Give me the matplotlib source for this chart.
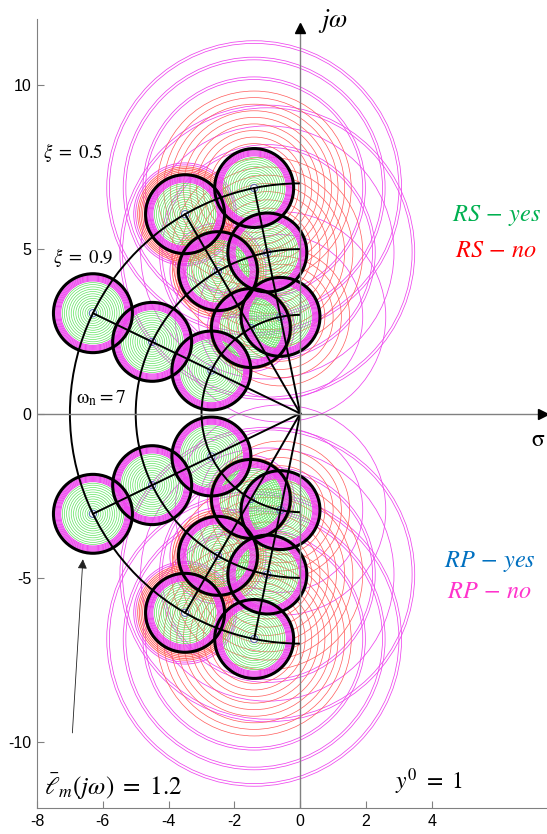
import numpy as np
import matplotlib
matplotlib.use('Agg')
import matplotlib.pyplot as plt
from matplotlib.patches import Circle, Arc

plt.rcParams['mathtext.fontset'] = 'stix'
plt.rcParams['font.family'] = ['Liberation Sans', 'DejaVu Sans']

# ---- data ----
wn_values = [3, 5, 7]            # natural frequencies of the pole grid
zeta_values = [0.9, 0.5, 0.2]    # damping ratios of the pole grid
lm_bar = 1.2                     # uncertainty radius (thick black circles)

# concentric test circles inside every uncertainty disc
green_radii = [0.17, 0.24, 0.31, 0.38, 0.45, 0.52, 0.59, 0.66, 0.73,
               0.80, 0.87, 0.93]
magenta_band_radii = [0.98, 1.01, 1.04, 1.07, 1.10, 1.13, 1.16]
blue_centre_radii = [0.11]

# extra circles around the less damped poles (keyed by wn)
red_halo_z05 = {3: [1.25], 5: [1.25, 1.31, 1.38],
                7: [1.24, 1.29, 1.34, 1.39, 1.44]}
magenta_halo_z05 = {3: [1.32], 5: [1.46], 7: [1.5, 1.56]}
red_outer_z02 = {3: [1.35, 1.6, 1.85, 2.1],
                 5: [1.35, 1.6, 1.85, 2.1, 2.35, 2.6, 2.9],
                 7: [1.35, 1.55, 1.75, 1.95, 2.15, 2.35, 2.55, 2.75, 2.95]}
magenta_outer_z02 = {3: [2.5, 3.2],
                     5: [3.2, 3.28, 3.85, 4.4, 4.48],
                     7: [3.3, 3.38, 3.9, 3.98, 4.4, 4.48]}

xticks = [-8, -6, -4, -2, 0, 2, 4]
yticks = [-10, -5, 0, 5, 10]

GREEN = '#5fe35f'
RED = '#ff5a5a'
MAG = '#ee44ee'

fig = plt.figure(figsize=(5.47, 8.34), dpi=100)
ax = fig.add_axes([37 / 547, 26 / 834, 510 / 547, 789 / 834])
ax.set_xlim(-8, 7.5)
ax.set_ylim(-12, 12)


def ring(c, r, color, lw, z):
    ax.add_patch(Circle(c, r, fill=False, edgecolor=color, lw=lw, zorder=z))


poles = []
for wn in wn_values:
    for z in zeta_values:
        s = -z * wn
        w = wn * np.sqrt(1 - z ** 2)
        for sign in (1, -1):
            poles.append((wn, z, (s, sign * w)))

for wn, z, c in poles:
    if z == 0.2:
        for r in magenta_outer_z02[wn]:
            ring(c, r, MAG, 0.55, 1)
        for r in red_outer_z02[wn]:
            ring(c, r, RED, 0.5, 2)
    if z == 0.5:
        for r in magenta_halo_z05[wn]:
            ring(c, r, MAG, 0.6, 1)
        for r in red_halo_z05[wn]:
            ring(c, r, RED, 0.6, 2)

for wn, z, c in poles:
    for r in green_radii:
        ring(c, r, GREEN, 0.5, 3)
    for r in magenta_band_radii:
        ring(c, r, MAG, 0.7, 4)
    for r in blue_centre_radii:
        ring(c, r, '#5577aa', 0.8, 4)
    ring(c, lm_bar, 'black', 2.2, 5)

# omega_n arcs and damping-ratio rays
for wn in wn_values:
    ax.add_patch(Arc((0, 0), 2 * wn, 2 * wn, theta1=90, theta2=270,
                     color='black', lw=1.4, zorder=6))
wmax = max(wn_values)
for z in zeta_values:
    s = -z * wmax
    w = wmax * np.sqrt(1 - z ** 2)
    for sign in (1, -1):
        ax.plot([0, s], [0, sign * w], color='black', lw=1.4, zorder=6)

# axes of the s-plane
ax.plot([0, 0], [-12, 11.6], color='#808080', lw=1.0, zorder=7)
ax.plot([-8, 7.3], [0, 0], color='#808080', lw=1.0, zorder=7)
ax.plot(0, 11.72, marker='^', color='black', markersize=7, zorder=8,
        clip_on=False)
ax.plot(7.38, 0, marker='>', color='black', markersize=7, zorder=8,
        clip_on=False)

for sp in ('top', 'right'):
    ax.spines[sp].set_visible(False)
for sp in ('left', 'bottom'):
    ax.spines[sp].set_color('#808080')
ax.set_xticks(xticks)
ax.set_yticks(yticks)
ax.set_xticklabels([str(t) for t in xticks])
ax.set_yticklabels([str(t) for t in yticks])
ax.tick_params(direction='in', length=5, color='#808080', labelsize=11.5,
               pad=4)

# texts
ax.text(-7.82, 7.95, r'$\xi\ =\ 0.5$', fontsize=13.5, ha='left', va='center')
ax.text(-7.5, 4.75, r'$\xi\ =\ 0.9$', fontsize=13.5, ha='left', va='center')
ax.text(-6.8, 0.47, r'$\mathrm{\omega_n}\mathrm{=7}$', fontsize=14,
        ha='left', va='center')
ax.text(0.55, 11.95, r'$j\omega$', fontsize=19, ha='left', va='center')
ax.text(7.0, -0.8, r'$\mathrm{\sigma}$', fontsize=17, ha='left',
        va='center')
ax.text(7.33, 6.03, r'$RS\,-\,yes$', fontsize=17.5, ha='right', va='center',
        color='#00b050')
ax.text(7.2, 4.93, r'$RS\,-\,no$', fontsize=17.5, ha='right', va='center',
        color='#ff0000')
ax.text(7.15, -4.5, r'$RP\,-\,yes$', fontsize=17.5, ha='right', va='center',
        color='#0070c0')
ax.text(7.05, -5.43, r'$RP\,-\,no$', fontsize=17.5, ha='right', va='center',
        color='#ff33cc')
ax.text(-7.8, -11.35, r'$\bar{\ell}_m(j\omega)\ =\ 1.2$', fontsize=18,
        ha='left', va='center')
ax.text(2.88, -11.2, r'$y^0\ =\ 1$', fontsize=17, ha='left', va='center')

ax.annotate('', xy=(-6.6, -4.35), xytext=(-6.93, -9.8),
            arrowprops=dict(arrowstyle='-|>', color='#222222', lw=0.6,
                            mutation_scale=14), zorder=9)

fig.savefig('out.png', dpi=100)
